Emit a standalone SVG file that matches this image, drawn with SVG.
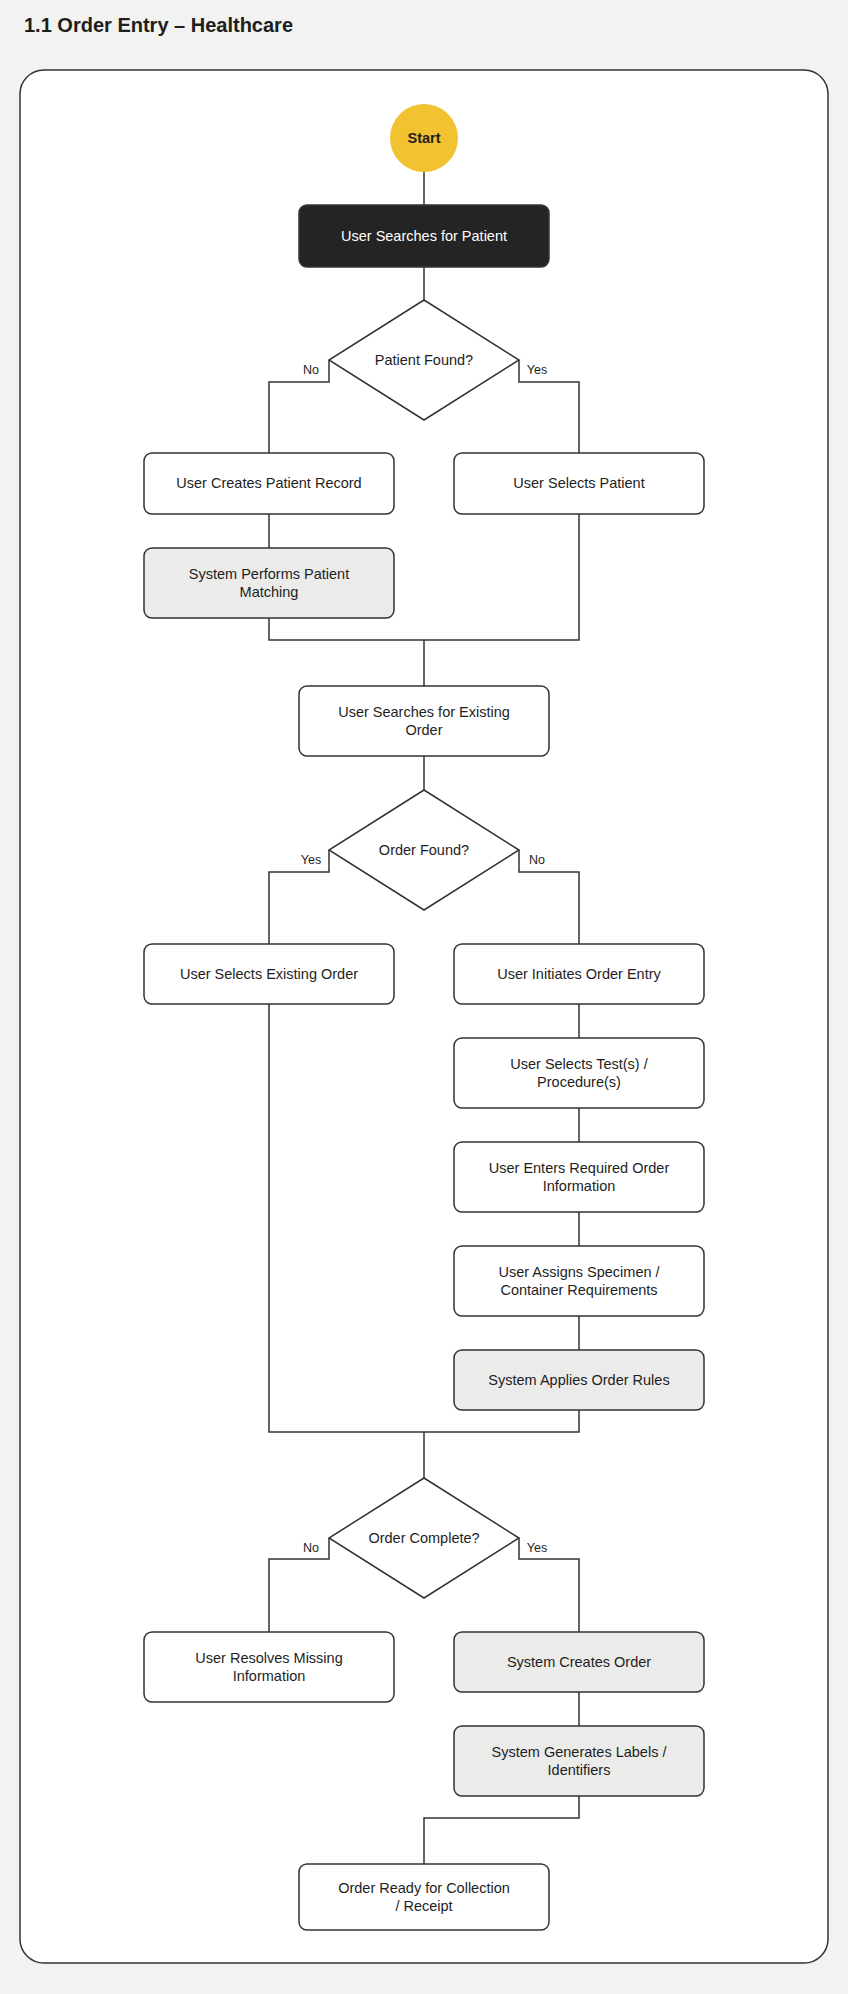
<svg xmlns="http://www.w3.org/2000/svg" width="848" height="1994" viewBox="0 0 848 1994">
<style>
text{font-family:"Liberation Sans",Arial,sans-serif;fill:#1e1e1e}
.t{font-size:14.5px;text-anchor:middle}
.l{font-size:12.5px;text-anchor:middle}
.box{fill:#ffffff;stroke:#333333;stroke-width:1.5}
.sys{fill:#ebebea;stroke:#333333;stroke-width:1.5}
.dark{fill:#242424;stroke:#333333;stroke-width:1.5}
.dia{fill:#ffffff;stroke:#333333;stroke-width:1.5}
.c{fill:none;stroke:#333333;stroke-width:1.5}
</style>
<rect x="0" y="0" width="848" height="1994" fill="#f2f2f0"/>
<text x="24" y="32" style="font-size:20px;font-weight:bold">1.1 Order Entry – Healthcare</text>
<rect x="20" y="70" width="808" height="1893" rx="24" fill="#ffffff" stroke="#333333" stroke-width="1.5"/>
<g id="connectors">
<path class="c" d="M424,172V205"/>
<path class="c" d="M424,267V300"/>
<path class="c" d="M329,360V382H269V453"/>
<path class="c" d="M519,360V382H579V453"/>
<path class="c" d="M269,514V548"/>
<path class="c" d="M269,618V640H579V514"/>
<path class="c" d="M424,640V686"/>
<path class="c" d="M424,756V790"/>
<path class="c" d="M329,850V872H269V944"/>
<path class="c" d="M519,850V872H579V944"/>
<path class="c" d="M579,1004V1038"/>
<path class="c" d="M579,1108V1142"/>
<path class="c" d="M579,1212V1246"/>
<path class="c" d="M579,1316V1350"/>
<path class="c" d="M269,1004V1432H579V1410"/>
<path class="c" d="M424,1432V1478"/>
<path class="c" d="M329,1538V1559H269V1632"/>
<path class="c" d="M519,1538V1559H579V1632"/>
<path class="c" d="M579,1692V1726"/>
<path class="c" d="M579,1796V1818H424V1864"/>
<text class="l" x="311" y="374">No</text>
<text class="l" x="537" y="374">Yes</text>
<text class="l" x="311" y="864">Yes</text>
<text class="l" x="537" y="864">No</text>
<text class="l" x="311" y="1552">No</text>
<text class="l" x="537" y="1552">Yes</text>
</g>
<g id="start">
<circle cx="424" cy="138" r="34" fill="#f2c230"/>
<text class="t" x="424" y="143" style="font-weight:bold">Start</text>
</g>
<g id="searchPatient">
<rect class="dark" x="299" y="205" width="250" height="62" rx="8"/>
<text class="t" x="424" y="241" style="fill:#ffffff">User Searches for Patient</text>
</g>
<g id="patientFound">
<polygon class="dia" points="424,300 519,360 424,420 329,360"/>
<text class="t" x="424" y="365">Patient Found?</text>
</g>
<g id="createPatient">
<rect class="box" x="144" y="453" width="250" height="61" rx="8"/>
<text class="t" x="269" y="488">User Creates Patient Record</text>
</g>
<g id="selectPatient">
<rect class="box" x="454" y="453" width="250" height="61" rx="8"/>
<text class="t" x="579" y="488">User Selects Patient</text>
</g>
<g id="patientMatching">
<rect class="sys" x="144" y="548" width="250" height="70" rx="8"/>
<text class="t" x="269" y="579">System Performs Patient</text>
<text class="t" x="269" y="597">Matching</text>
</g>
<g id="searchOrder">
<rect class="box" x="299" y="686" width="250" height="70" rx="8"/>
<text class="t" x="424" y="717">User Searches for Existing</text>
<text class="t" x="424" y="735">Order</text>
</g>
<g id="orderFound">
<polygon class="dia" points="424,790 519,850 424,910 329,850"/>
<text class="t" x="424" y="855">Order Found?</text>
</g>
<g id="selectExisting">
<rect class="box" x="144" y="944" width="250" height="60" rx="8"/>
<text class="t" x="269" y="979">User Selects Existing Order</text>
</g>
<g id="initiateEntry">
<rect class="box" x="454" y="944" width="250" height="60" rx="8"/>
<text class="t" x="579" y="979">User Initiates Order Entry</text>
</g>
<g id="selectTests">
<rect class="box" x="454" y="1038" width="250" height="70" rx="8"/>
<text class="t" x="579" y="1069">User Selects Test(s) /</text>
<text class="t" x="579" y="1087">Procedure(s)</text>
</g>
<g id="enterInfo">
<rect class="box" x="454" y="1142" width="250" height="70" rx="8"/>
<text class="t" x="579" y="1173">User Enters Required Order</text>
<text class="t" x="579" y="1191">Information</text>
</g>
<g id="assignSpecimen">
<rect class="box" x="454" y="1246" width="250" height="70" rx="8"/>
<text class="t" x="579" y="1277">User Assigns Specimen /</text>
<text class="t" x="579" y="1295">Container Requirements</text>
</g>
<g id="applyRules">
<rect class="sys" x="454" y="1350" width="250" height="60" rx="8"/>
<text class="t" x="579" y="1385">System Applies Order Rules</text>
</g>
<g id="orderComplete">
<polygon class="dia" points="424,1478 519,1538 424,1598 329,1538"/>
<text class="t" x="424" y="1543">Order Complete?</text>
</g>
<g id="resolveMissing">
<rect class="box" x="144" y="1632" width="250" height="70" rx="8"/>
<text class="t" x="269" y="1663">User Resolves Missing</text>
<text class="t" x="269" y="1681">Information</text>
</g>
<g id="createOrder">
<rect class="sys" x="454" y="1632" width="250" height="60" rx="8"/>
<text class="t" x="579" y="1667">System Creates Order</text>
</g>
<g id="generateLabels">
<rect class="sys" x="454" y="1726" width="250" height="70" rx="8"/>
<text class="t" x="579" y="1757">System Generates Labels /</text>
<text class="t" x="579" y="1775">Identifiers</text>
</g>
<g id="orderReady">
<rect class="box" x="299" y="1864" width="250" height="66" rx="8"/>
<text class="t" x="424" y="1893">Order Ready for Collection</text>
<text class="t" x="424" y="1911">/ Receipt</text>
</g>
</svg>
